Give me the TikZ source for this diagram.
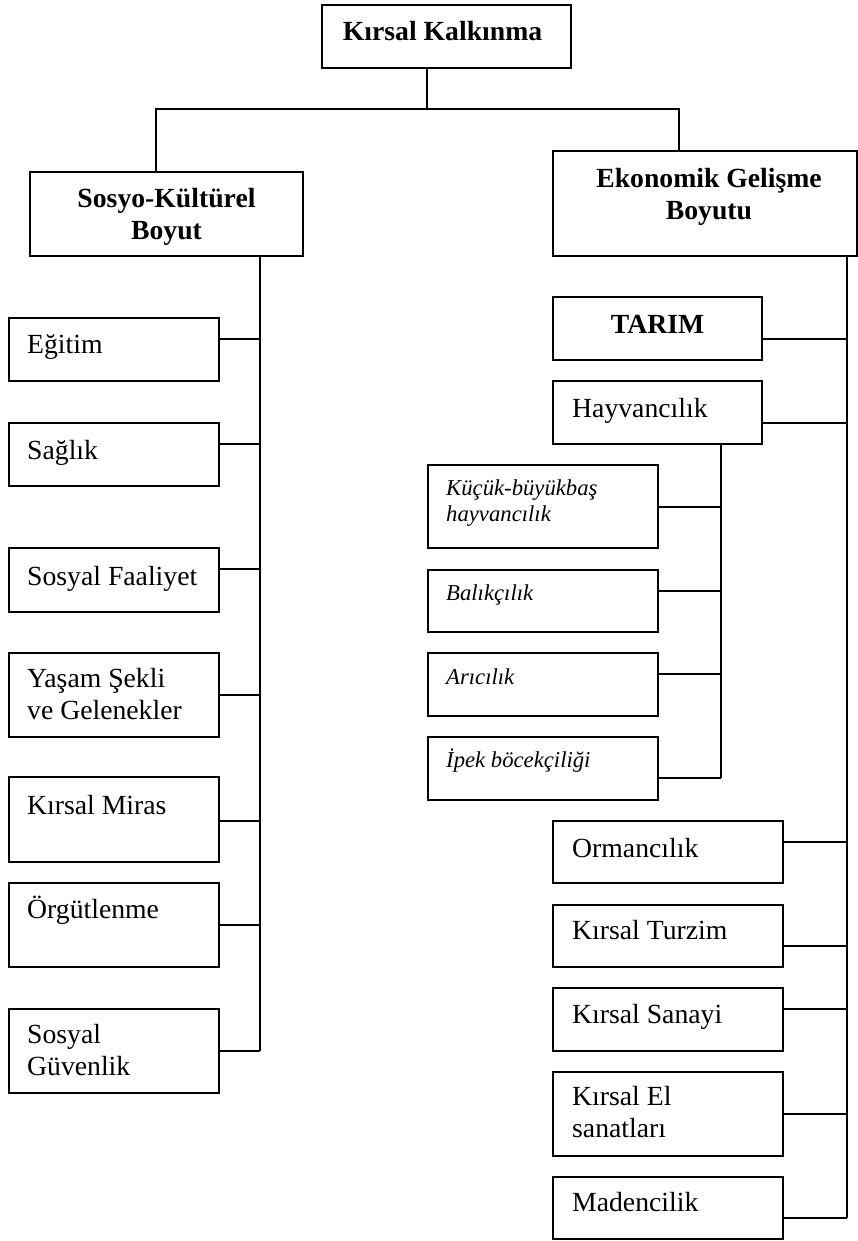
\documentclass[tikz,border=0pt]{standalone}
\usepackage{fontspec}
\setmainfont{Liberation Serif}
\usetikzlibrary{calc}
\newcommand\mlL[1]{\vtop{\halign{##\hfil\cr#1\crcr}}}
\newcommand\mlC[1]{\vtop{\halign{\hfil##\hfil\cr#1\crcr}}}
\begin{document}
\begin{tikzpicture}[x=1pt,y=-1pt,
  box/.style={draw, line width=1.4pt, rectangle, anchor=north west, inner sep=0pt, outer sep=0pt},
  mainbox/.style={box, line width=1.8pt},
  reg/.style={anchor=base west, inner sep=0pt, font=\fontsize{27.7}{32}\selectfont},
  ital/.style={anchor=base west, inner sep=0pt, font=\fontsize{22.7}{26}\selectfont\itshape},
  ttl/.style={anchor=base, inner sep=0pt, font=\fontsize{27.7}{32}\selectfont\bfseries},
  conn/.style={line width=1.2pt}]
\path[fill=white] (0,0) rectangle (858,1241);
\useasboundingbox (0,0) rectangle (858,1241);

% main boxes
\node[mainbox, minimum width=249, minimum height=63] (top) at (322,5) {};
\node[mainbox, minimum width=273, minimum height=84] (sosyo) at (30,172) {};
\node[mainbox, minimum width=304, minimum height=105] (ekon) at (553,151) {};
\node[ttl] (ttop) at ($(top.north)+(-4,36)$) {Kırsal Kalkınma};
\node[ttl] (tsosyo) at ($(sosyo.north)+(0,36)$) {\mlC{Sosyo-Kültürel\cr Boyut}};
\node[ttl] (tekon) at ($(ekon.north)+(4,37)$) {\mlC{Ekonomik Gelişme\cr Boyutu}};

% left column
\node[box, minimum width=210, minimum height=63] (egitim) at (9,318) {};
\node[box, minimum width=210, minimum height=63] (saglik) at (9,423) {};
\node[box, minimum width=210, minimum height=64] (faaliyet) at (9,548) {};
\node[box, minimum width=210, minimum height=84] (yasam) at (9,653) {};
\node[box, minimum width=210, minimum height=85] (miras) at (9,777) {};
\node[box, minimum width=210, minimum height=84] (orgut) at (9,883) {};
\node[box, minimum width=210, minimum height=84] (guven) at (9,1009) {};
\node[reg] (tegitim) at ($(egitim.north west)+(18,35)$) {Eğitim};
\node[reg] (tsaglik) at ($(saglik.north west)+(18,36)$) {Sağlık};
\node[reg] (tfaaliyet) at ($(faaliyet.north west)+(18,37)$) {Sosyal Faaliyet};
\node[reg] (tyasam) at ($(yasam.north west)+(18,34)$) {\mlL{Yaşam Şekli\cr ve Gelenekler}};
\node[reg] (tmiras) at ($(miras.north west)+(18,37)$) {Kırsal Miras};
\node[reg] (torgut) at ($(orgut.north west)+(18,35)$) {Örgütlenme};
\node[reg] (tguven) at ($(guven.north west)+(18,34)$) {\mlL{Sosyal\cr Güvenlik}};

% right column
\node[box, minimum width=209, minimum height=63] (tarim) at (553,297) {};
\node[box, minimum width=209, minimum height=63] (hayv) at (553,381) {};
\node[box, minimum width=230, minimum height=62] (orman) at (553,821) {};
\node[box, minimum width=230, minimum height=62] (turizm) at (553,905) {};
\node[box, minimum width=230, minimum height=63] (sanayi) at (553,988) {};
\node[box, minimum width=230, minimum height=84] (el) at (553,1072) {};
\node[box, minimum width=230, minimum height=62] (maden) at (553,1177) {};
\node[ttl] (ttarim) at ($(tarim.north)+(0,36)$) {TARIM};
\node[reg] (thayv) at ($(hayv.north west)+(19,36)$) {Hayvancılık};
\node[reg] (torman) at ($(orman.north west)+(19,36)$) {Ormancılık};
\node[reg] (tturizm) at ($(turizm.north west)+(19,34)$) {Kırsal Turzim};
\node[reg] (tsanayi) at ($(sanayi.north west)+(19,35)$) {Kırsal Sanayi};
\node[reg] (tel) at ($(el.north west)+(19,33)$) {\mlL{Kırsal El\cr sanatları}};
\node[reg] (tmaden) at ($(maden.north west)+(19,34)$) {Madencilik};

% sub column
\node[box, minimum width=230, minimum height=83] (kucuk) at (428,465) {};
\node[box, minimum width=230, minimum height=62] (balik) at (428,570) {};
\node[box, minimum width=230, minimum height=63] (ari) at (428,653) {};
\node[box, minimum width=230, minimum height=63] (ipek) at (428,737) {};
\node[ital] (tkucuk) at ($(kucuk.north west)+(18,30)$) {\mlL{Küçük-büyükbaş\cr hayvancılık}};
\node[ital] (tbalik) at ($(balik.north west)+(18,30)$) {Balıkçılık};
\node[ital] (tari) at ($(ari.north west)+(18,31)$) {Arıcılık};
\node[ital] (tipek) at ($(ipek.north west)+(18,30)$) {İpek böcekçiliği};

% junctions
\coordinate (j) at (427,109);
\coordinate (jl) at (156,109);
\coordinate (jr) at (679,109);
\coordinate (spL) at (260,256);
\coordinate (spR) at (847,256);
\coordinate (spH) at (721,444);

\draw[conn] (top.south -| j) -- (j);
\draw[conn] (sosyo.north -| jl) -- (jl) -- (jr) -- (ekon.north -| jr);

\foreach \n/\s in {egitim/10.5, saglik/10.5, faaliyet/11, yasam/0, miras/-1.5, orgut/0, guven/0}{
  \coordinate (c\n) at ([yshift=\s pt]\n.east);
  \draw[conn] (c\n) -- (c\n -| spL);
}
\foreach \n/\s in {tarim/-10.5, hayv/-10.5, orman/10, turizm/-10, sanayi/10.5, el/0, maden/-10}{
  \coordinate (c\n) at ([yshift=\s pt]\n.east);
  \draw[conn] (c\n) -- (c\n -| spR);
}
\foreach \n/\s in {kucuk/-0.5, balik/10, ari/10.5, ipek/-9.5}{
  \coordinate (c\n) at ([yshift=\s pt]\n.east);
  \draw[conn] (c\n) -- (c\n -| spH);
}
\draw[conn] (sosyo.south -| spL) -- (cguven -| spL);
\draw[conn] (ekon.south -| spR) -- (cmaden -| spR);
\draw[conn] (hayv.south -| spH) -- (cipek -| spH);
\end{tikzpicture}
\end{document}
